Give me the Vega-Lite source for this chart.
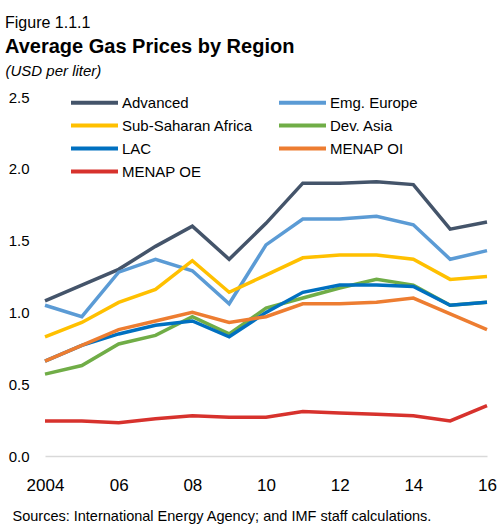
{
  "$schema": "https://vega.github.io/schema/vega-lite/v6.json",
  "width": 442,
  "height": 359,
  "autosize": {"type": "none"},
  "padding": {"left": 45, "top": 97, "right": 11, "bottom": 69},
  "background": "white",
  "config": {"font": "Liberation Sans", "view": {"stroke": null}},
  "title": {
    "text": "Figure 1.1.1",
    "subtitle": "Average Gas Prices by Region",
    "anchor": "start",
    "frame": "group",
    "dx": -40,
    "dy": 4,
    "fontSize": 16,
    "fontWeight": "normal",
    "color": "black",
    "subtitleFontSize": 20,
    "subtitleFontWeight": "bold",
    "subtitleColor": "black",
    "subtitlePadding": 6,
    "offset": 10
  },
  "data": {
    "values": [
      {"year": 2004, "region": "Advanced", "value": 1.08},
      {"year": 2005, "region": "Advanced", "value": 1.19},
      {"year": 2006, "region": "Advanced", "value": 1.30},
      {"year": 2007, "region": "Advanced", "value": 1.46},
      {"year": 2008, "region": "Advanced", "value": 1.60},
      {"year": 2009, "region": "Advanced", "value": 1.37},
      {"year": 2010, "region": "Advanced", "value": 1.62},
      {"year": 2011, "region": "Advanced", "value": 1.90},
      {"year": 2012, "region": "Advanced", "value": 1.90},
      {"year": 2013, "region": "Advanced", "value": 1.91},
      {"year": 2014, "region": "Advanced", "value": 1.89},
      {"year": 2015, "region": "Advanced", "value": 1.58},
      {"year": 2016, "region": "Advanced", "value": 1.63},
      {"year": 2004, "region": "Emg. Europe", "value": 1.05},
      {"year": 2005, "region": "Emg. Europe", "value": 0.97},
      {"year": 2006, "region": "Emg. Europe", "value": 1.28},
      {"year": 2007, "region": "Emg. Europe", "value": 1.37},
      {"year": 2008, "region": "Emg. Europe", "value": 1.29},
      {"year": 2009, "region": "Emg. Europe", "value": 1.06},
      {"year": 2010, "region": "Emg. Europe", "value": 1.47},
      {"year": 2011, "region": "Emg. Europe", "value": 1.65},
      {"year": 2012, "region": "Emg. Europe", "value": 1.65},
      {"year": 2013, "region": "Emg. Europe", "value": 1.67},
      {"year": 2014, "region": "Emg. Europe", "value": 1.61},
      {"year": 2015, "region": "Emg. Europe", "value": 1.37},
      {"year": 2016, "region": "Emg. Europe", "value": 1.43},
      {"year": 2004, "region": "Sub-Saharan Africa", "value": 0.83},
      {"year": 2005, "region": "Sub-Saharan Africa", "value": 0.93},
      {"year": 2006, "region": "Sub-Saharan Africa", "value": 1.07},
      {"year": 2007, "region": "Sub-Saharan Africa", "value": 1.16},
      {"year": 2008, "region": "Sub-Saharan Africa", "value": 1.36},
      {"year": 2009, "region": "Sub-Saharan Africa", "value": 1.14},
      {"year": 2010, "region": "Sub-Saharan Africa", "value": 1.26},
      {"year": 2011, "region": "Sub-Saharan Africa", "value": 1.38},
      {"year": 2012, "region": "Sub-Saharan Africa", "value": 1.40},
      {"year": 2013, "region": "Sub-Saharan Africa", "value": 1.40},
      {"year": 2014, "region": "Sub-Saharan Africa", "value": 1.37},
      {"year": 2015, "region": "Sub-Saharan Africa", "value": 1.23},
      {"year": 2016, "region": "Sub-Saharan Africa", "value": 1.25},
      {"year": 2004, "region": "Dev. Asia", "value": 0.57},
      {"year": 2005, "region": "Dev. Asia", "value": 0.63},
      {"year": 2006, "region": "Dev. Asia", "value": 0.78},
      {"year": 2007, "region": "Dev. Asia", "value": 0.84},
      {"year": 2008, "region": "Dev. Asia", "value": 0.97},
      {"year": 2009, "region": "Dev. Asia", "value": 0.85},
      {"year": 2010, "region": "Dev. Asia", "value": 1.03},
      {"year": 2011, "region": "Dev. Asia", "value": 1.10},
      {"year": 2012, "region": "Dev. Asia", "value": 1.17},
      {"year": 2013, "region": "Dev. Asia", "value": 1.23},
      {"year": 2014, "region": "Dev. Asia", "value": 1.19},
      {"year": 2015, "region": "Dev. Asia", "value": 1.05},
      {"year": 2016, "region": "Dev. Asia", "value": 1.07},
      {"year": 2004, "region": "LAC", "value": 0.66},
      {"year": 2005, "region": "LAC", "value": 0.77},
      {"year": 2006, "region": "LAC", "value": 0.85},
      {"year": 2007, "region": "LAC", "value": 0.91},
      {"year": 2008, "region": "LAC", "value": 0.94},
      {"year": 2009, "region": "LAC", "value": 0.83},
      {"year": 2010, "region": "LAC", "value": 1.00},
      {"year": 2011, "region": "LAC", "value": 1.14},
      {"year": 2012, "region": "LAC", "value": 1.19},
      {"year": 2013, "region": "LAC", "value": 1.19},
      {"year": 2014, "region": "LAC", "value": 1.18},
      {"year": 2015, "region": "LAC", "value": 1.05},
      {"year": 2016, "region": "LAC", "value": 1.07},
      {"year": 2004, "region": "MENAP OI", "value": 0.66},
      {"year": 2005, "region": "MENAP OI", "value": 0.77},
      {"year": 2006, "region": "MENAP OI", "value": 0.88},
      {"year": 2007, "region": "MENAP OI", "value": 0.94},
      {"year": 2008, "region": "MENAP OI", "value": 1.00},
      {"year": 2009, "region": "MENAP OI", "value": 0.93},
      {"year": 2010, "region": "MENAP OI", "value": 0.97},
      {"year": 2011, "region": "MENAP OI", "value": 1.06},
      {"year": 2012, "region": "MENAP OI", "value": 1.06},
      {"year": 2013, "region": "MENAP OI", "value": 1.07},
      {"year": 2014, "region": "MENAP OI", "value": 1.10},
      {"year": 2015, "region": "MENAP OI", "value": 0.99},
      {"year": 2016, "region": "MENAP OI", "value": 0.88},
      {"year": 2004, "region": "MENAP OE", "value": 0.244},
      {"year": 2005, "region": "MENAP OE", "value": 0.244},
      {"year": 2006, "region": "MENAP OE", "value": 0.232},
      {"year": 2007, "region": "MENAP OE", "value": 0.26},
      {"year": 2008, "region": "MENAP OE", "value": 0.28},
      {"year": 2009, "region": "MENAP OE", "value": 0.27},
      {"year": 2010, "region": "MENAP OE", "value": 0.27},
      {"year": 2011, "region": "MENAP OE", "value": 0.31},
      {"year": 2012, "region": "MENAP OE", "value": 0.30},
      {"year": 2013, "region": "MENAP OE", "value": 0.29},
      {"year": 2014, "region": "MENAP OE", "value": 0.28},
      {"year": 2015, "region": "MENAP OE", "value": 0.244},
      {"year": 2016, "region": "MENAP OE", "value": 0.35}
    ]
  },
  "mark": {"type": "line", "strokeWidth": 3.5},
  "encoding": {
    "x": {
      "field": "year",
      "type": "quantitative",
      "scale": {"domain": [2004, 2016], "nice": false, "zero": false},
      "axis": {
        "values": [2004, 2006, 2008, 2010, 2012, 2014, 2016],
        "labelExpr": "datum.value == 2004 ? '2004' : format(datum.value % 100, '02')",
        "labelFontSize": 17,
        "labelColor": "black",
        "labelPadding": 21,
        "labelFlush": false,
        "ticks": false,
        "grid": false,
        "domainColor": "#d9d9d9",
        "domainWidth": 1.5,
        "title": "Sources: International Energy Agency; and IMF staff calculations.",
        "titleFontSize": 14.5,
        "titleFontWeight": "normal",
        "titleColor": "black",
        "titleAnchor": "start",
        "titleAlign": "left",
        "titleBaseline": "alphabetic",
        "titleX": -33,
        "titleY": 64
      }
    },
    "y": {
      "field": "value",
      "type": "quantitative",
      "scale": {"domain": [0, 2.5], "nice": false},
      "axis": {
        "values": [0, 0.5, 1, 1.5, 2, 2.5],
        "format": ".1f",
        "labelFontSize": 15,
        "labelColor": "black",
        "labelPadding": 16,
        "ticks": false,
        "domain": false,
        "grid": false,
        "title": "(USD per liter)",
        "titleAngle": 0,
        "titleAlign": "left",
        "titleBaseline": "alphabetic",
        "titleX": -40,
        "titleY": -22,
        "titleFontStyle": "italic",
        "titleFontWeight": "normal",
        "titleFontSize": 15,
        "titleColor": "black"
      }
    },
    "color": {
      "field": "region",
      "type": "nominal",
      "sort": ["Advanced", "Emg. Europe", "Sub-Saharan Africa", "Dev. Asia", "LAC", "MENAP OI", "MENAP OE"],
      "scale": {
        "domain": ["Advanced", "Emg. Europe", "Sub-Saharan Africa", "Dev. Asia", "LAC", "MENAP OI", "MENAP OE"],
        "range": ["#44546A", "#5B9BD5", "#FFC000", "#70AD47", "#0070C0", "#ED7D31", "#D7322D"]
      },
      "legend": {
        "orient": "none",
        "direction": "horizontal",
        "legendX": 42,
        "legendY": -2,
        "columns": 2,
        "title": null,
        "symbolType": "M-4.7,0H4.7",
        "symbolSize": 100,
        "symbolStrokeWidth": 4,
        "labelFontSize": 15,
        "labelColor": "black",
        "labelOffset": 20,
        "labelLimit": 300,
        "rowPadding": 6,
        "columnPadding": 18,
        "padding": 0
      }
    }
  }
}
